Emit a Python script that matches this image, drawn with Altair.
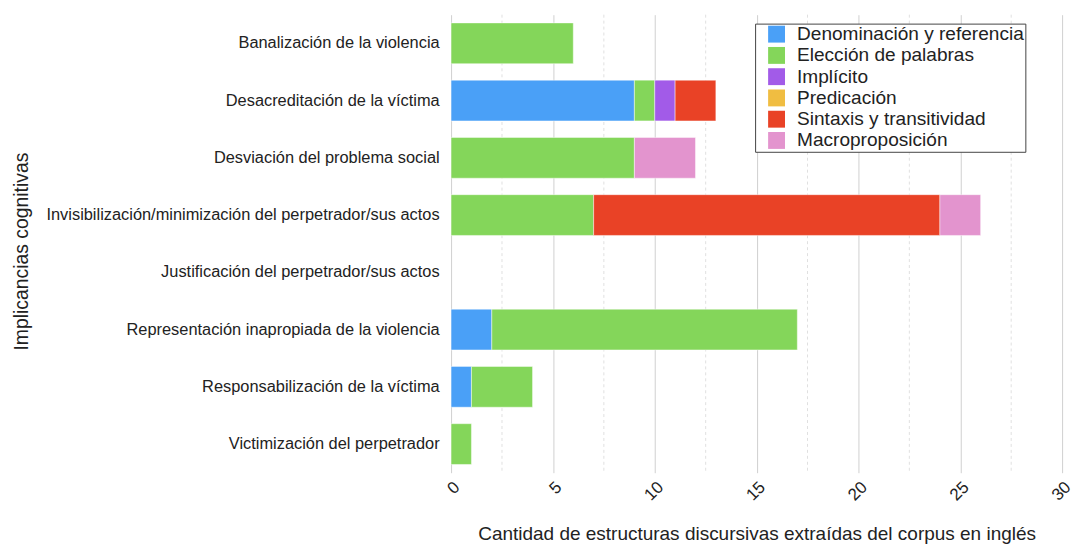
import altair as alt
import pandas as pd

# Cognitive implications (rows) and discursive strategies (stacked series)
categories = [
    "Banalización de la violencia",
    "Desacreditación de la víctima",
    "Desviación del problema social",
    "Invisibilización/minimización del perpetrador/sus actos",
    "Justificación del perpetrador/sus actos",
    "Representación inapropiada de la violencia",
    "Responsabilización de la víctima",
    "Victimización del perpetrador",
]
series = [
    "Denominación y referencia",
    "Elección de palabras",
    "Implícito",
    "Predicación",
    "Sintaxis y transitividad",
    "Macroproposición",
]
colors = ["#4AA0F7", "#84D65A", "#A25BE8", "#F0BD41", "#E94226", "#E394CE"]

denominacion = [0, 9, 0, 0, 0, 2, 1, 0]
eleccion = [6, 1, 9, 7, 0, 15, 3, 1]
implicito = [0, 1, 0, 0, 0, 0, 0, 0]
predicacion = [0, 0, 0, 0, 0, 0, 0, 0]
sintaxis = [0, 2, 0, 17, 0, 0, 0, 0]
macroproposicion = [0, 0, 3, 2, 0, 0, 0, 0]

x_ticks = [0, 5, 10, 15, 20, 25, 30]
x_minor = [2.5, 7.5, 12.5, 17.5, 22.5, 27.5]

values = [denominacion, eleccion, implicito, predicacion, sintaxis, macroproposicion]
rows = []
for s_idx, (name, vals) in enumerate(zip(series, values)):
    for cat, v in zip(categories, vals):
        if v > 0:
            rows.append({"categoria": cat, "serie": name, "orden": s_idx, "valor": v})
df = pd.DataFrame(rows)
minor_df = pd.DataFrame({"x": x_minor})

FONT = "Liberation Sans"
TEXT = "#222222"

x_scale = alt.Scale(domain=[0, 30], nice=False, zero=True)

# dashed minor gridlines halfway between the labelled ticks
minor_grid = alt.Chart(minor_df).mark_rule(
    color="#e0e0e0", strokeWidth=1, strokeDash=[3, 3]
).encode(x=alt.X("x:Q", scale=x_scale))

bars = alt.Chart(df).mark_bar(
    stroke="white", strokeWidth=1, strokeOpacity=0.45
).encode(
    y=alt.Y(
        "categoria:N",
        sort=categories,
        scale=alt.Scale(domain=categories, paddingInner=0.288, paddingOuter=0.144),
        axis=alt.Axis(
            title="Implicancias cognitivas",
            titleFontSize=19.5,
            titleFontWeight="normal",
            titleColor=TEXT,
            titleFont=FONT,
            titleX=-432,
            titleY=238,
            titleAlign="center",
            titleBaseline="middle",
            titleAngle=270,
            labelFont=FONT,
            labelFontSize=16.5,
            labelColor=TEXT,
            labelPadding=12,
            labelLimit=600,
            ticks=False,
            domain=False,
            grid=False,
        ),
    ),
    x=alt.X(
        "sum(valor):Q",
        stack="zero",
        scale=x_scale,
        axis=alt.Axis(
            values=x_ticks,
            title="Cantidad de estructuras discursivas extraídas del corpus en inglés",
            titleFontSize=19.1,
            titleFontWeight="normal",
            titleColor=TEXT,
            titleFont=FONT,
            titlePadding=22,
            labelFont=FONT,
            labelFontSize=17,
            labelColor=TEXT,
            labelAngle=-45,
            labelPadding=6,
            ticks=False,
            domain=False,
            grid=True,
            gridColor="#d0d0d0",
            gridWidth=1,
        ),
    ),
    color=alt.Color(
        "serie:N",
        scale=alt.Scale(domain=series, range=colors),
        sort=series,
        legend=alt.Legend(
            title=None,
            orient="none",
            legendX=306,
            legendY=9,
            direction="vertical",
            strokeColor="#444444",
            fillColor="white",
            padding=1,
            symbolOffset=11,
            labelOffset=11,
            symbolType="square",
            symbolSize=289,
            symbolStrokeWidth=0,
            labelFont=FONT,
            labelFontSize=19.2,
            labelColor=TEXT,
            labelExpr="datum.label + '\u2003'",
            rowPadding=1.4,
            labelLimit=400,
        ),
    ),
    order=alt.Order("orden:Q"),
)

chart = alt.layer(minor_grid, bars).properties(
    width=615,
    height=461,
    padding={"left": 12, "top": 12, "right": 5, "bottom": 0},
    background="white",
).configure_view(stroke=None)

chart.save("out.html", embed_options={"renderer": "svg", "actions": False})
